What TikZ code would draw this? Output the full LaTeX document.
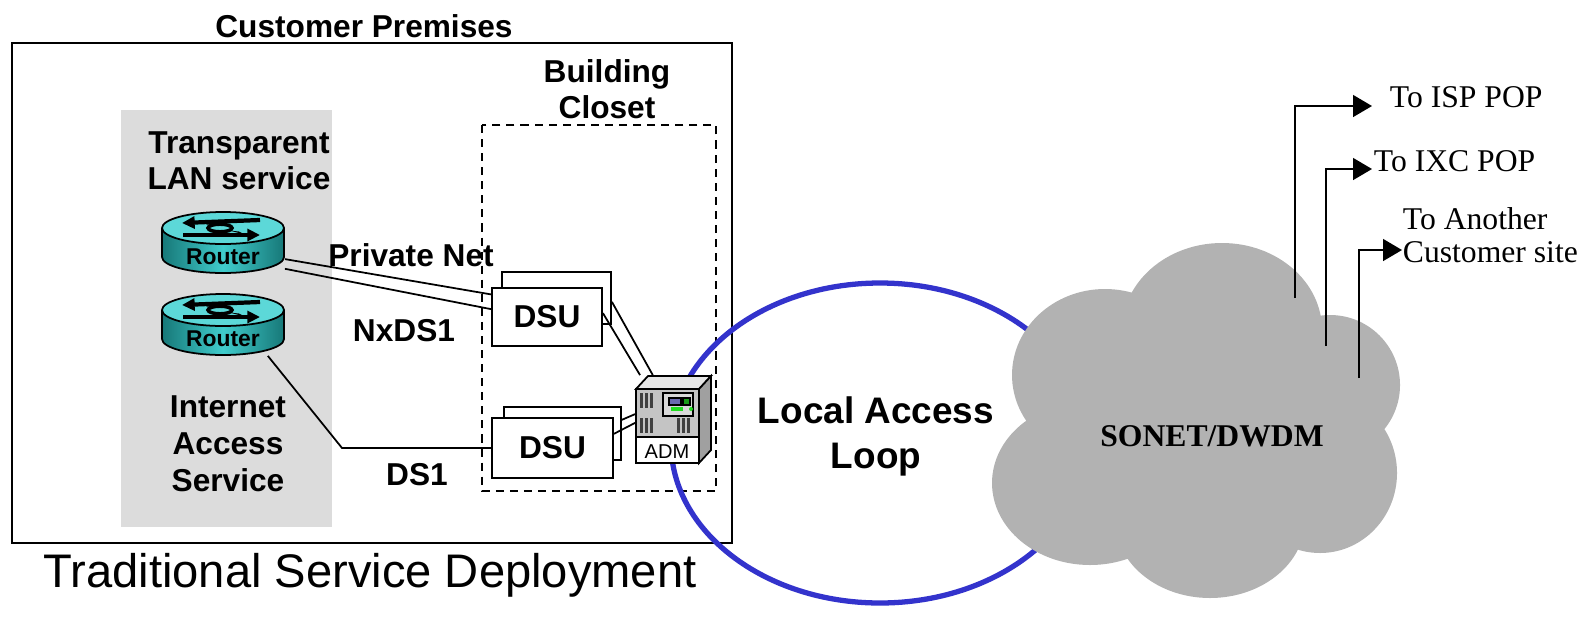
\documentclass[tikz,border=0pt]{standalone}
\usepackage{fontspec}
\setmainfont{Liberation Serif}
\setsansfont{Liberation Sans}
\usetikzlibrary{arrows.meta}
\definecolor{panelgray}{HTML}{DCDCDC}
\definecolor{cloudgray}{HTML}{B2B2B2}
\definecolor{loopblue}{HTML}{3333CC}
\definecolor{routertop}{HTML}{5CD8D8}
\definecolor{routerdark}{HTML}{177878}
\definecolor{routermid}{HTML}{40CCCC}
\definecolor{admface}{HTML}{C4C4C4}
\definecolor{admtop}{HTML}{E6E6E6}
\definecolor{admside}{HTML}{A0A0A0}
\definecolor{admscreen}{HTML}{6A6AB0}
\definecolor{admled}{HTML}{22DD22}

\newcommand{\drawrouter}[1]{%
  \begin{scope}[shift={(#1.center)}]
    \shade[left color=routerdark,right color=routerdark,middle color=routermid]
      (-61,-14.5) -- (-61,14.5) arc[start angle=180,end angle=0,x radius=61,y radius=16] -- (61,-14.5) -- cycle;
    \draw (-61,-14.5) -- (-61,14.5) arc[start angle=180,end angle=0,x radius=61,y radius=16] -- (61,-14.5);
    \filldraw[fill=routertop] (0,-14.5) ellipse[x radius=61,y radius=16];
    \draw[line width=1.2pt,-{Triangle[length=3.6pt,width=3.4pt]}] (37,-22.5) -- (-41,-19.5);
    \draw[line width=1.2pt,-{Triangle[length=3.6pt,width=3.4pt]}] (-40,-7.5) -- (37,-7.5);
    \fill (-22,-21) -- (-6,-17) -- (-16,-18) -- cycle;
    \fill (22,-8) -- (6,-12) -- (16,-11) -- cycle;
    \draw[line width=1pt] (-3,-14.5) ellipse[x radius=12,y radius=3.8];
    \node[font=\sffamily\bfseries\fontsize{6.5}{7}\selectfont,inner sep=0pt] at (0,14.5) {Router};
  \end{scope}}

\begin{document}
\begin{tikzpicture}[x=0.01cm,y=-0.01cm,line width=0.5pt,
    lbl/.style={font=\sffamily\bfseries\fontsize{9}{10.3}\selectfont,align=center,inner sep=0pt},
    serif/.style={font=\fontsize{9}{9.4}\selectfont,inner sep=0pt},
    dsubox/.style={draw,fill=white,inner sep=0pt},
    routerbox/.style={minimum width=1.22cm,minimum height=0.61cm,inner sep=0pt},
    pointer/.style={-{Triangle[length=5.4pt,width=6.2pt]},line width=0.6pt}]
  \useasboundingbox (0,0) rectangle (1583,621);

  % customer premises
  \node[draw,line width=0.6pt,minimum width=7.2cm,minimum height=5cm,inner sep=0pt] (premises) at (372,293) {};
  \node[lbl] (premtitle) at (364,26) {Customer Premises};
  \fill[panelgray] (121,110) rectangle (332,527);
  \draw[dash pattern=on 2.3pt off 1.7pt] (482,125) rectangle (716,491);
  \node[lbl] (closet) at (607,89) {Building\\Closet};
  \node[lbl,font=\sffamily\bfseries\fontsize{9}{10.2}\selectfont] (tls) at (239,161) {Transparent\\LAN service};
  \node[lbl,font=\sffamily\bfseries\fontsize{9}{10.5}\selectfont] (ias) at (228,444) {Internet\\Access\\Service};
  \node[font=\sffamily\fontsize{13.4}{15}\selectfont,inner sep=0pt] (caption) at (370,575) {Traditional Service Deployment};

  % local loop
  \draw[loopblue,line width=1.5pt] (880,443) ellipse[x radius=209,y radius=160];
  \node[lbl,font=\sffamily\bfseries\fontsize{10.5}{12.8}\selectfont] (loop) at (876,436) {Local Access\\Loop};

  % routers
  \node[routerbox] (r1) at (223,242.5) {};
  \drawrouter{r1}
  \node[routerbox] (r2) at (223,324.5) {};
  \drawrouter{r2}

  % DSUs
  \node[dsubox,minimum width=1.09cm,minimum height=0.52cm] (dsu1b) at (556.5,298) {};
  \node[dsubox,lbl,minimum width=1.1cm,minimum height=0.58cm] (dsu1f) at (547,317) {DSU};
  \node[dsubox,minimum width=1.17cm,minimum height=0.53cm] (dsu2b) at (562.5,433.5) {};
  \node[dsubox,lbl,minimum width=1.21cm,minimum height=0.6cm] (dsu2f) at (552.5,448) {DSU};

  % ADM
  \node[minimum width=0.75cm,minimum height=0.87cm,inner sep=0pt] (adm) at (673.5,419.5) {};
  \begin{scope}[shift={(adm.center)}]
    \filldraw[fill=admtop] (-37.5,-30.5) -- (-25.5,-43.5) -- (37.5,-43.5) -- (25.5,-30.5) -- cycle;
    \filldraw[fill=admside] (25.5,-30.5) -- (37.5,-43.5) -- (37.5,30.5) -- (25.5,43.5) -- cycle;
    \filldraw[fill=admface] (-37.5,-30.5) rectangle (25.5,43.5);
    \filldraw[fill=white] (-37.5,17.5) rectangle (25.5,43.5);
    \foreach \s in {0,5,10} {
      \fill[black!75] (-33.5+\s,-26.5) rectangle +(2.5,15);
      \fill[black!75] (-33.5+\s,-1.5) rectangle +(2.5,15);
      \fill[black!75] (3.5+\s,-1.5) rectangle +(2.5,15);
    }
    \filldraw[fill=black!15,line width=0.6pt] (-10.5,-26.5) rectangle (19.5,-3.5);
    \filldraw[fill=admscreen] (-4.5,-21.5) rectangle (7.5,-14.5);
    \filldraw[fill=admled!70!black] (9.5,-21.5) rectangle (16.5,-14.5);
    \fill[admled] (-2.5,-12.5) rectangle (9.5,-8.5);
    \fill[admled] (17.5,-10.5) circle[radius=2];
    \node[font=\sffamily\fontsize{5.7}{6}\selectfont,inner sep=0pt] at (-6.5,32.5) {ADM};
  \end{scope}

  % links
  \draw (r1.-15) -- (dsu1f.158);
  \draw (r1.-23) -- (dsu1f.172);
  \coordinate (kink) at (342,448);
  \draw (r2.-35) -- (kink) -- (dsu2f.west);
  \draw (dsu1b.-4) -- (adm.115);
  \draw (dsu1f.4) -- (adm.127);
  \draw (dsu2b.13) -- (adm.172);
  \draw (dsu2f.13) -- (adm.185);
  \node[lbl] (privnet) at (411,255) {Private Net};
  \node[lbl] (nxds1) at (404,331) {NxDS1};
  \node[lbl] (ds1) at (417,475) {DS1};

  % SONET cloud
  \fill[cloudgray] (1222,330) ellipse[x radius=100,y radius=87]
    (1105,375) ellipse[x radius=93,y radius=86]
    (1330,385) ellipse[x radius=70,y radius=70]
    (1090,483) ellipse[x radius=98,y radius=82]
    (1210,520) ellipse[x radius=95,y radius=78]
    (1320,473) ellipse[x radius=77,y radius=80]
    (1210,430) ellipse[x radius=150,y radius=110];
  \node[font=\bfseries\fontsize{9}{10}\selectfont,inner sep=0pt] (sonet) at (1212,436) {SONET/DWDM};

  % exits
  \coordinate (o1) at (1295,298);
  \coordinate (o2) at (1326,346);
  \coordinate (o3) at (1359,378);
  \node[serif,anchor=west] (isp) at (1389,97) {To ISP POP};
  \node[serif,anchor=west] (ixc) at (1373,161) {To IXC POP};
  \node[serif,anchor=west,align=left] (site) at (1402,235) {To Another\\Customer site};
  \draw[pointer] (o1) |- ([xshift=-0.17cm,yshift=-0.09cm]isp.west);
  \draw[pointer] (o2) |- ([xshift=-0.01cm,yshift=-0.08cm]ixc.west);
  \draw[pointer] (o3) |- ([yshift=-0.15cm]site.west);
\end{tikzpicture}
\end{document}
